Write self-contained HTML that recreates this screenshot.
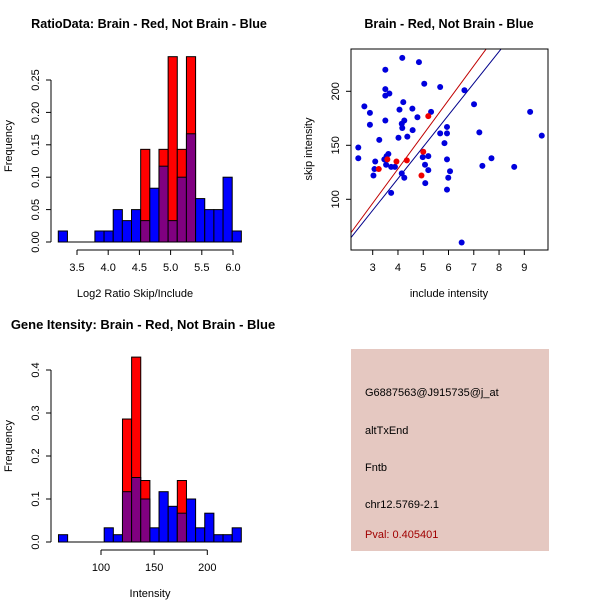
<!DOCTYPE html>
<html><head><meta charset="utf-8"><style>
body{margin:0;background:#fff}
svg{display:block;font-family:"Liberation Sans",sans-serif}
</style></head><body>
<svg id="s" width="600" height="600" xmlns="http://www.w3.org/2000/svg">
<rect width="600" height="600" fill="#fff"/>
<g id="h1"></g>
<g id="sc"></g>
<g id="h2"></g>
<g>
<rect x="351" y="349" width="198" height="202" fill="#e5c8c1"/>
<text x="365" y="396" font-size="11">G6887563@J915735@j_at</text>
<text x="365" y="434" font-size="11">altTxEnd</text>
<text x="365" y="471" font-size="11">Fntb</text>
<text x="365" y="508" font-size="11">chr12.5769-2.1</text>
<text x="365" y="538" font-size="11" fill="#a00000">Pval: 0.405401</text>
</g>
</svg>
<script>
// Ratio histogram data
const h1Start = 3.2, h1Width = 0.1467;
const h1Blue = [0.017,0,0,0,0.017,0.017,0.05,0.033,0.05,0.033,0.083,0.117,0.033,0.10,0.167,0.067,0.05,0.05,0.10,0.017];
const h1Red  = [0,0,0,0,0,0,0,0,0,0.143,0,0.143,0.286,0.143,0.286,0,0,0,0,0];
const h1XTicks = [3.5,4.0,4.5,5.0,5.5,6.0];
const h1YTicks = [0.00,0.05,0.10,0.15,0.20,0.25];
// Intensity histogram data
const h2Start = 60, h2Width = 8.6;
const h2Blue = [0.017,0,0,0,0,0.033,0.017,0.117,0.15,0.10,0.033,0.117,0.083,0.067,0.10,0.033,0.067,0.017,0.017,0.033];
const h2Red  = [0,0,0,0,0,0,0,0.286,0.43,0.143,0,0,0,0.143,0,0,0,0,0,0];
const h2XTicks = [100,150,200];
const h2YTicks = [0.0,0.1,0.2,0.3,0.4];
// Scatter data
const blueX = [2.43,2.43,2.67,2.89,2.89,3.03,3.07,3.1,3.26,3.5,3.5,3.5,3.5,3.66,3.46,3.55,3.62,3.53,3.73,3.73,3.88,4.02,4.06,4.17,4.15,4.17,4.21,4.25,4.37,4.15,4.25,4.58,4.57,4.77,4.83,5.04,4.98,5.07,5.2,5.2,5.08,5.31,5.67,5.67,5.84,5.94,5.94,5.94,5.99,6.06,5.94,6.52,6.63,7.01,7.22,7.34,7.7,8.6,9.23,9.69];
const blueY = [148,138,186,180,169,122,128,135,155,220,202,196,173,198,137,140,142,132,106,130,130,157,183,231,170,166,190,173,158,124,120,164,184,176,227,207,139,132,140,127,115,181,204,161,152,167,161,137,120,126,109,60,201,188,162,131,138,130,181,159];
const redX = [3.24,3.58,3.94,4.35,4.93,5.0,5.2];
const redY = [128,137,135,136,122,144,177];
const lineRed = [31.8, 1];   // slope, intercept
const lineBlue = [29.4, 1.6];
const scXTicks = [3,4,5,6,7,8,9];
const scYTicks = [100,150,200];

const NS="http://www.w3.org/2000/svg";
function mk(p,t,a){const e=document.createElementNS(NS,t);for(const k in a)e.setAttribute(k,a[k]);p.appendChild(e);return e;}
function txt(p,x,y,s,size,extra){const e=mk(p,'text',Object.assign({x:x,y:y,'font-size':size,'text-anchor':'middle'},extra||{}));e.textContent=s;return e;}

function hist(g,cfg){
  const X=v=>cfg.x0+(v-cfg.xv0)*cfg.xs, Y=v=>cfg.base-v*cfg.ys;
  for(let i=0;i<cfg.blue.length;i++){
    const a=X(cfg.start+i*cfg.w), b=X(cfg.start+(i+1)*cfg.w);
    const bv=cfg.blue[i], rv=cfg.red[i], m=Math.min(bv,rv), M=Math.max(bv,rv);
    if(M<=0)continue;
    const col = rv>bv?'#ff0000':'#0000ff';
    const r=mk(g,'rect',{x:a,y:Y(M),width:b-a,height:Y(0)-Y(M),fill:col,stroke:'#000','stroke-width':1});
    
    
    if(m>0){
      const p=mk(g,'rect',{x:a,y:Y(m),width:b-a,height:Y(0)-Y(m),fill:'#800080',stroke:'#000','stroke-width':1});
      
      
    }
  }
  mk(g,'line',{x1:X(cfg.start),x2:X(cfg.start+cfg.blue.length*cfg.w),y1:cfg.base,y2:cfg.base,stroke:'#000'});
  const xa=mk(g,'g',{});
  
  
  const xt=cfg.xticks;
  mk(xa,'line',{x1:X(xt[0]),x2:X(xt[xt.length-1]),y1:cfg.axY,y2:cfg.axY,stroke:'#000'});
  xt.forEach(v=>{mk(xa,'line',{x1:X(v),x2:X(v),y1:cfg.axY,y2:cfg.axY+5,stroke:'#000'});txt(xa,X(v),cfg.axY+21,cfg.fmtX(v),11);});
  const ya=mk(g,'g',{});
  
  
  const yt=cfg.yticks;
  mk(ya,'line',{x1:cfg.axX,x2:cfg.axX,y1:Y(yt[0]),y2:Y(yt[yt.length-1]),stroke:'#000'});
  yt.forEach(v=>{mk(ya,'line',{x1:cfg.axX,x2:cfg.axX-5,y1:Y(v),y2:Y(v),stroke:'#000'});txt(ya,cfg.axX-12,Y(v),cfg.fmtY(v),11,{transform:`rotate(-90 ${cfg.axX-12} ${Y(v)})`});});
}

const g1=document.getElementById('h1');
hist(g1,{start:h1Start,w:h1Width,blue:h1Blue,red:h1Red,x0:77,xv0:3.5,xs:62.4,base:242,ys:648,axY:250,axX:51,xticks:h1XTicks,yticks:h1YTicks,fmtX:v=>v.toFixed(1),fmtY:v=>v.toFixed(2)});
txt(g1,149,28,'RatioData: Brain - Red, Not Brain - Blue',12.6,{'font-weight':'bold'});
txt(g1,135,297,'Log2 Ratio Skip/Include',11);
txt(g1,12,146,'Frequency',11,{transform:'rotate(-90 12 146)'});

const g2=document.getElementById('h2');
hist(g2,{start:h2Start,w:h2Width,blue:h2Blue,red:h2Red,x0:101,xv0:100,xs:1.063,base:542,ys:430,axY:550,axX:51,xticks:h2XTicks,yticks:h2YTicks,fmtX:v=>String(v),fmtY:v=>v.toFixed(1)});
txt(g2,143,329,'Gene Itensity: Brain - Red, Not Brain - Blue',13,{'font-weight':'bold'});
txt(g2,150,597,'Intensity',11);
txt(g2,12,446,'Frequency',11,{transform:'rotate(-90 12 446)'});

const gs=document.getElementById('sc');
const SX=v=>372.7+(v-3)*25.27, SY=v=>199.3-(v-100)*1.08;
const L=351,R=548,T=49,B=250;
txt(gs,449,28,'Brain - Red, Not Brain - Blue',12.6,{'font-weight':'bold'});
mk(gs,'defs',{}).innerHTML='<clipPath id="cp"><rect x="351" y="49" width="197" height="201"/></clipPath>';
const lines=mk(gs,'g',{'clip-path':'url(#cp)'});
[[lineRed,'#c00000','fit-line-brain'],[lineBlue,'#00008b','fit-line-not-brain']].forEach(([ln,c,n])=>{
  const xa=2.0,xb=10;
  const l=mk(lines,'line',{x1:SX(xa),y1:SY(ln[0]*xa+ln[1]),x2:SX(xb),y2:SY(ln[0]*xb+ln[1]),stroke:c,'stroke-width':1});
  
  
});
blueX.forEach((x,i)=>{const c=mk(gs,'circle',{cx:SX(x),cy:SY(blueY[i]),r:3,fill:'#0000dd'});
  
  });
redX.forEach((x,i)=>{const c=mk(gs,'circle',{cx:SX(x),cy:SY(redY[i]),r:3,fill:'#ee0000'});
  
  });
mk(gs,'rect',{x:L,y:T,width:R-L,height:B-T,fill:'none',stroke:'#000'});
scXTicks.forEach(v=>{mk(gs,'line',{x1:SX(v),x2:SX(v),y1:B,y2:B+5,stroke:'#000'});txt(gs,SX(v),B+21,String(v),11);});
scYTicks.forEach(v=>{mk(gs,'line',{x1:L,x2:L-5,y1:SY(v),y2:SY(v),stroke:'#000'});txt(gs,L-12,SY(v),String(v),11,{transform:`rotate(-90 ${L-12} ${SY(v)})`});});
txt(gs,449,297,'include intensity',11);
txt(gs,312,149,'skip intensity',11,{transform:'rotate(-90 312 149)'});
</script>
</body></html>
